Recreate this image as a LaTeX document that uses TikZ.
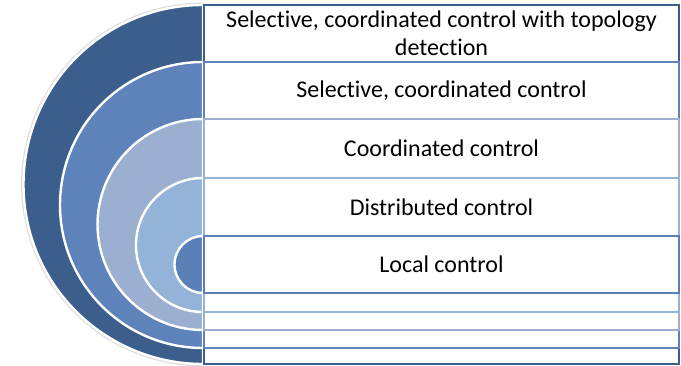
\documentclass[tikz,border=0pt]{standalone}
\usepackage{fontspec}
\setmainfont{Carlito}[Ligatures={NoCommon,NoContextual,NoRequired}, Contextuals=NoAlternate]
\definecolor{ringA}{HTML}{3B5E8C}
\definecolor{ringB}{HTML}{5E82BA}
\definecolor{ringC}{HTML}{9BB0D1}
\definecolor{ringD}{HTML}{93B3D8}
\definecolor{ringE}{HTML}{5B80B8}
\begin{document}
\begin{tikzpicture}[
  x=1pt, y=-1pt,
  ring/.style={draw=white, line width=2.4pt},
  frame/.style={draw=#1, line width=1.4pt, fill=white},
  label/.style={font=\fontsize{24}{28}\selectfont, align=center, inner sep=0pt}
]
\useasboundingbox (0,0) rectangle (681,366);
% half discs, outermost first
\fill[gray!25] (203,2.5) arc[start angle=270, end angle=90, radius=182] -- cycle;
\filldraw[ring, fill=ringA] (203,5) arc[start angle=270, end angle=90, radius=179.5] -- cycle;
\filldraw[ring, fill=ringB] (203,62) arc[start angle=270, end angle=90, radius=143] -- cycle;
\filldraw[ring, fill=ringC] (203,119) arc[start angle=270, end angle=90, radius=105.5] -- cycle;
\filldraw[ring, fill=ringD] (203,178) arc[start angle=270, end angle=90, radius=67] -- cycle;
\filldraw[ring, fill=ringE] (203,236) arc[start angle=270, end angle=90, radius=28.5] -- cycle;
% stacked boxes
\draw[frame=ringA] (204,5) rectangle (679,364);
\draw[frame=ringB] (204,62) rectangle (679,348);
\draw[frame=ringC] (204,119) rectangle (679,330);
\draw[frame=ringD] (204,178) rectangle (679,312);
\draw[frame=ringE] (204,236) rectangle (679,293);
% texts
\node[label] (topo) at (441.5,33.5) {Selective, coordinated control with topology\\detection};
\node[label] (selco) at (441.5,90.5) {Selective, coordinated control};
\node[label] (coord) at (441.5,148.5) {Coordinated control};
\node[label] (distr) at (441.5,207) {Distributed control};
\node[label] (local) at (441.5,264.5) {Local control};
\end{tikzpicture}
\end{document}
